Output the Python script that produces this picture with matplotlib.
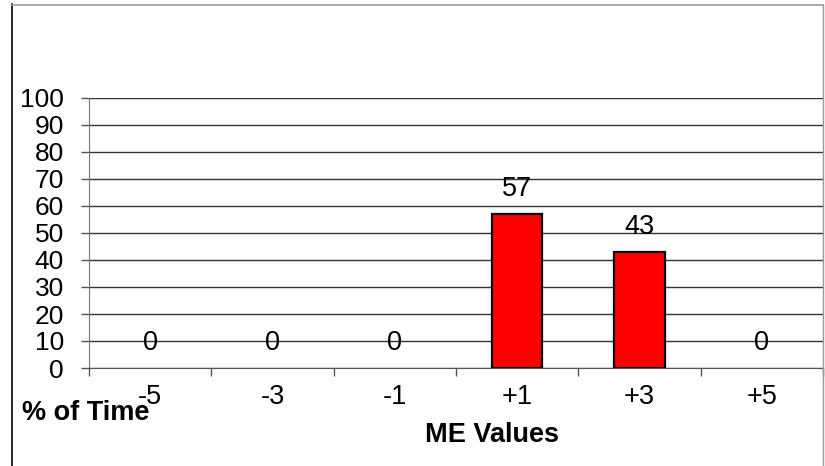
import matplotlib.pyplot as plt
from matplotlib.lines import Line2D

plt.rcParams['font.family'] = ['Liberation Sans', 'DejaVu Sans']

# ME value categories and share of time
categories = ['-5', '-3', '-1', '+1', '+3', '+5']
percent = [0, 0, 0, 57, 43, 0]
y_ticks = list(range(0, 101, 10))

W, H = 825, 466
fig = plt.figure(figsize=(W / 100, H / 100), dpi=100)

# outer frame of the chart box
fig.add_artist(Line2D([12 / W, 12 / W], [0, 1 - 4 / H], color='black', lw=1.2))
fig.add_artist(Line2D([12 / W, 823 / W], [1 - 4.5 / H, 1 - 4.5 / H], color='#999999', lw=1.2))
fig.add_artist(Line2D([823 / W, 823 / W], [0, 1 - 4.5 / H], color='#999999', lw=1.0))

ax = fig.add_axes([89 / W, 1 - 368 / H, (823 - 89) / W, (368 - 98) / H])

x = list(range(len(categories)))
edge_w = [1.6 if v > 0 else 0 for v in percent]
ax.bar(x, percent, width=0.41, color='#ff0000', edgecolor='black', linewidth=edge_w, zorder=3)

for xi, v in zip(x, percent):
    ax.text(xi, v + 6.7, str(v), ha='center', va='baseline', fontsize=19.5, zorder=4)

ax.set_xlim(-0.5, len(categories) - 0.5)
ax.set_ylim(0, 100)
ax.set_yticks(y_ticks)
ax.set_yticklabels([str(t) for t in y_ticks], fontsize=19)
ax.yaxis.grid(True, color='#333333', linewidth=1.0, zorder=0)
ax.tick_params(axis='y', length=6, width=1, color='#555555', pad=12)

# category labels between boundary ticks
ax.set_xticks([i - 0.5 for i in range(len(categories) + 1)])
ax.set_xticklabels([''] * (len(categories) + 1))
ax.tick_params(axis='x', length=6, width=1, color='#555555')
for xi, lab in zip(x, categories):
    ax.text(xi, -10.9, lab, ha='center', va='center', fontsize=19.5, clip_on=False)

for s in ['top', 'right']:
    ax.spines[s].set_visible(False)
ax.spines['left'].set_color('#777777')
ax.spines['bottom'].set_color('#555555')

fig.text(22 / W, 1 - 413 / H, '% of Time', fontsize=19.5, fontweight='bold', ha='left', va='center')
fig.text(492 / W, 1 - 435 / H, 'ME Values', fontsize=19.5, fontweight='bold', ha='center', va='center')

fig.savefig('out.png', dpi=100)
